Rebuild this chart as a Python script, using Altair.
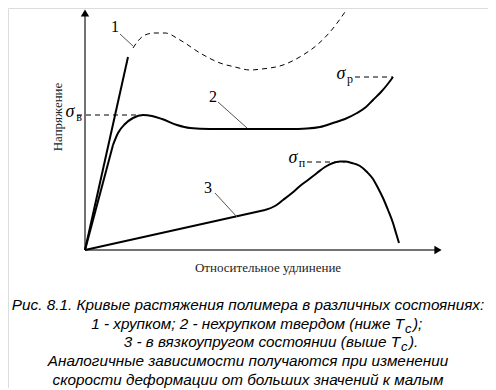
import altair as alt
import pandas as pd

# ---- curve data (strain, stress) in arbitrary schematic units ----
c1_solid_x = [0, 43]
c1_solid_y = [0, 193]
c1_dash_x = [48, 53, 60, 70, 80, 95, 115, 135, 150, 165, 177, 198, 218, 232, 245, 260]
c1_dash_y = [202, 209, 215, 217, 217, 210, 197, 187, 183, 180, 181, 185, 195, 205, 218, 238]

c2_lin_x = [0, 28]
c2_lin_y = [0, 105]
c2_x = [28, 33, 40, 48, 58, 67, 77, 92, 105, 125, 165, 205, 222, 235, 248, 260, 272, 281, 288, 296, 302, 308]
c2_y = [105, 117, 126, 132, 135, 134, 131, 125, 122, 121, 121, 121, 121.5, 123, 127, 131, 137, 143, 150, 158, 165, 173]

c3_lin_x = [0, 180]
c3_lin_y = [0, 40]
c3_x = [180, 190, 198, 207, 215, 223, 232, 240, 248, 255, 260, 267, 275, 282, 288, 293, 298, 303, 308, 311, 314]
c3_y = [40, 44, 50, 57, 64, 70, 77, 83, 87, 88.5, 88.5, 87, 84, 78, 71, 62, 52, 40, 27, 17, 7]

# reference levels
sigma_names = ["σ", "σ", "σ"]
sigma_subs = ["в", "р", "п"]
sigma_levels = [135, 173, 88]
sigma_x0 = [-8, 270, 222]
sigma_x1 = [55, 308, 260]

curve_labels = ["1", "2", "3"]

caption_lines = [
    "Рис. 8.1. Кривые растяжения полимера в различных состояниях:",
    "1 - хрупком; 2 - нехрупком твердом (ниже T",
    "3 - в вязкоупругом состоянии (выше T",
    "Аналогичные зависимости получаются при изменении",
    "скорости деформации от больших значений к малым",
]
caption_tails = [");", ")."]

y_title = "Напряжение"
x_title = "Относительное удлинение"

W, H = 480, 380
xs = alt.Scale(domain=[-77, -77 + W], nice=False, zero=False)
ys = alt.Scale(domain=[242 - H, 242], nice=False, zero=False)
X = lambda f="x": alt.X(f + ":Q", scale=xs, axis=None)
Y = lambda f="y": alt.Y(f + ":Q", scale=ys, axis=None)


def line_df(x, y):
    return pd.DataFrame({"x": x, "y": y, "o": list(range(len(x)))})


def curve(x, y, width=2, dash=None, interp="monotone"):
    m = dict(color="black", strokeWidth=width, interpolate=interp, clip=False)
    if dash:
        m["strokeDash"] = dash
    return alt.Chart(line_df(x, y)).mark_line(**m).encode(x=X(), y=Y(), order="o:Q")


layers = []
# axes
axes_df = pd.DataFrame({"x": [0, 0], "y": [0, 0], "x2": [0, 350], "y2": [234, 0]})
layers.append(alt.Chart(axes_df).mark_rule(color="#444", strokeWidth=1.5).encode(
    x=X(), y=Y(), x2="x2:Q", y2="y2:Q"))
layers.append(alt.Chart(pd.DataFrame({"x": [0], "y": [237]})).mark_point(
    filled=True, opacity=1, size=70, color="black", shape="triangle-up").encode(x=X(), y=Y()))
layers.append(alt.Chart(pd.DataFrame({"x": [353], "y": [0]})).mark_point(
    filled=True, opacity=1, size=70, color="black", shape="triangle-right").encode(x=X(), y=Y()))

# curves
layers.append(curve(c1_solid_x, c1_solid_y, 2, interp="linear"))
layers.append(curve(c1_dash_x, c1_dash_y, 1, [5, 4]))
layers.append(curve(c2_lin_x, c2_lin_y, 2, interp="linear"))
layers.append(curve(c2_x, c2_y, 2))
layers.append(curve(c3_lin_x, c3_lin_y, 2, interp="linear"))
layers.append(curve(c3_x, c3_y, 2))

# sigma dashed levels
sig_df = pd.DataFrame({"x": sigma_x0, "x2": sigma_x1, "y": sigma_levels})
layers.append(alt.Chart(sig_df).mark_rule(color="black", strokeWidth=1, strokeDash=[5, 4]).encode(
    x=X(), x2="x2:Q", y=Y()))
sym_df = pd.DataFrame({"t": sigma_names, "x": [-15, 256, 208], "y": [133, 171, 87]})
layers.append(alt.Chart(sym_df).mark_text(font="Liberation Serif", fontStyle="italic", fontSize=18,
                                          baseline="alphabetic", color="black").encode(
    x=X(), y=Y(), text="t:N"))
sub_df = pd.DataFrame({"t": sigma_subs, "x": [-6, 265, 217], "y": [129, 167, 83]})
layers.append(alt.Chart(sub_df).mark_text(font="Liberation Serif", fontSize=12,
                                          baseline="alphabetic", color="black").encode(
    x=X(), y=Y(), text="t:N"))

# curve number labels and leaders
num_df = pd.DataFrame({"t": curve_labels, "x": [30, 128, 123], "y": [223, 153, 62]})
layers.append(alt.Chart(num_df).mark_text(font="Liberation Serif", fontSize=16, color="black").encode(
    x=X(), y=Y(), text="t:N"))
lead_df = pd.DataFrame({"x": [35, 133, 130], "y": [216, 148, 57], "x2": [48, 162, 152], "y2": [204, 122, 33]})
layers.append(alt.Chart(lead_df).mark_rule(color="#555", strokeWidth=1).encode(
    x=X(), y=Y(), x2="x2:Q", y2="y2:Q"))

# axis titles
layers.append(alt.Chart(pd.DataFrame({"t": [y_title], "x": [-27], "y": [133]})).mark_text(
    font="Liberation Serif", fontSize=13, angle=270, color="#222").encode(x=X(), y=Y(), text="t:N"))
layers.append(alt.Chart(pd.DataFrame({"t": [x_title], "x": [183], "y": [-18]})).mark_text(
    font="Liberation Serif", fontSize=13, color="#222").encode(x=X(), y=Y(), text="t:N"))

# caption
cap_font = dict(font="Liberation Sans", fontStyle="italic", fontSize=15.3, color="black", baseline="alphabetic")
cen_df = pd.DataFrame({"t": [caption_lines[0], caption_lines[3], caption_lines[4]],
                       "x": [163, 163, 163], "y": [-60, -116, -135]})
layers.append(alt.Chart(cen_df).mark_text(align="center", **cap_font).encode(x=X(), y=Y(), text="t:N"))
r_df = pd.DataFrame({"t": [caption_lines[1], caption_lines[2]], "x": [319, 315], "y": [-79, -97]})
layers.append(alt.Chart(r_df).mark_text(align="right", **cap_font).encode(x=X(), y=Y(), text="t:N"))
c_df = pd.DataFrame({"t": ["c", "c"], "x": [320, 316], "y": [-83, -101]})
layers.append(alt.Chart(c_df).mark_text(align="left", font="Liberation Sans", fontStyle="italic",
                                        fontSize=13, color="black", baseline="alphabetic").encode(
    x=X(), y=Y(), text="t:N"))
t_df = pd.DataFrame({"t": caption_tails, "x": [328, 324], "y": [-79, -97]})
layers.append(alt.Chart(t_df).mark_text(align="left", **cap_font).encode(x=X(), y=Y(), text="t:N"))

chart = alt.layer(*layers).properties(
    width=W, height=H, autosize=alt.AutoSizeParams(type="none"), padding=0
).configure_view(stroke=None).configure(background="white")

chart.save("out.html", embed_options={"renderer": "svg", "actions": False})
